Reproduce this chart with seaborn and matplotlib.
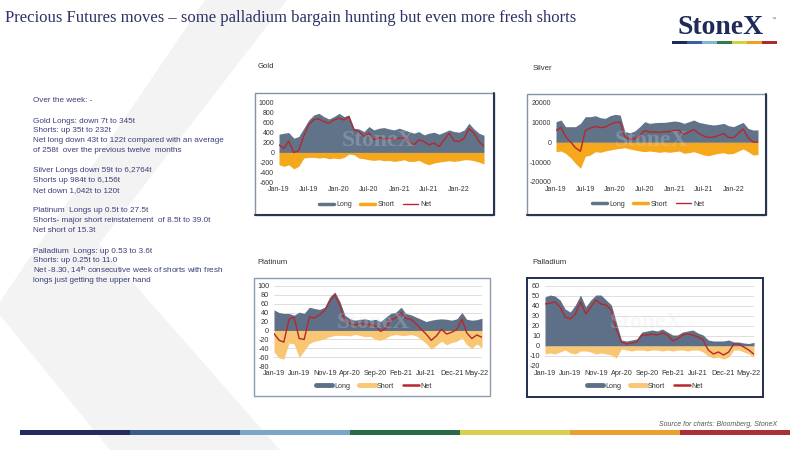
import matplotlib
matplotlib.use("Agg")
import matplotlib.pyplot as plt
import seaborn as sns
import pandas as pd
from matplotlib.lines import Line2D
from matplotlib.patches import Polygon, Rectangle

sns.set_theme(style="white")
plt.rcParams["font.family"] = ["Liberation Sans", "DejaVu Sans"]
plt.rcParams["axes.unicode_minus"] = False
plt.rcParams["mathtext.fontset"] = "custom"
plt.rcParams["mathtext.rm"] = "Liberation Sans"
plt.rcParams["mathtext.it"] = "Liberation Sans:italic"

# ---- data (monthly readings, Jan-19 .. Jun-22) ----
months = pd.date_range("2019-01-01", "2022-06-01", freq="MS")

gold_long = [367, 387, 400, 287, 320, 487, 653, 753, 787, 720, 673, 720,
             787, 720, 753, 487, 473, 420, 520, 453, 487, 500, 473, 453,
             487, 453, 420, 387, 420, 353, 387, 407, 367, 407, 453, 420,
             407, 453, 587, 473, 387, 345]
gold_short = [-247, -280, -247, -330, -280, -113, -100, -100, -113, -100, -127, -113,
              -127, -100, -33, -47, -113, -127, -147, -160, -147, -167, -160, -180,
              -167, -147, -180, -180, -160, -213, -247, -213, -193, -180, -167, -180,
              -167, -147, -147, -167, -193, -232]
gold_net = [153, 80, 230, 0, 40, 330, 560, 660, 673, 620, 587, 653,
            687, 653, 720, 453, 420, 320, 387, 253, 300, 273, 287, 253,
            287, 300, 220, 153, 253, 220, 153, 187, 120, 253, 387, 233,
            220, 287, 480, 387, 220, 122]

silver_long = [10420, 11260, 7900, 7900, 7900, 9580, 12940, 12940, 13450, 12440, 12100, 13450,
               14120, 13780, 5380, 4870, 5710, 7900, 10420, 9580, 9920, 10080, 10080, 10420,
               10760, 10420, 9580, 10420, 11260, 10080, 9580, 9080, 8740, 9080, 9580, 8400,
               7900, 9080, 10080, 7060, 6220, 6276]
silver_short = [-4700, -4370, -5550, -7730, -10590, -13100, -7000, -6390, -4700, -5040, -4370, -3870,
                -3360, -3030, -2690, -3360, -3870, -4370, -4700, -4370, -4700, -5040, -4700, -5040,
                -4700, -4370, -5550, -5210, -4700, -5550, -6390, -6720, -6050, -5550, -5210, -5880,
                -5550, -4370, -3360, -4700, -6390, -6156]
silver_net = [6000, 7500, 3000, 200, -2700, -4500, 6000, 7200, 8000, 7400, 7700, 9000,
              10000, 10200, 2700, 1500, 1800, 3500, 6000, 5200, 5200, 5000, 5400, 5400,
              6000, 6000, 4000, 5200, 6500, 4500, 3200, 2400, 2700, 3500, 4400, 2500,
              2300, 4700, 6700, 2400, 200, 120]

plat_long = [46, 40, 38, 38, 34, 41, 38, 52, 49, 47, 52, 75,
             86, 64, 34, 26, 23, 25, 26, 23, 25, 20, 30, 38,
             41, 52, 38, 35, 30, 25, 20, 23, 25, 26, 25, 23,
             26, 40, 25, 23, 24, 27.5]
plat_short = [-48, -61, -64, -28, -30, -60, -45, -29, -24, -22, -18, -14,
              -11, -11, -11, -12, -9, -11, -14, -13, -20, -22, -17, -11,
              -9, -11, -11, -9, -12, -20, -29, -42, -33, -24, -32, -27,
              -24, -16, -32, -40, -30, -39]
plat_net = [-7, -22, -26, 25, 30, -18, -20, 30, 28, 35, 45, 65,
            80, 55, 22, 15, 12, 16, 14, 13, 10, -2, 5, 24,
            28, 40, 27, 25, 15, 3, -8, -22, -12, 3, -8, -4,
            2, 25, -5, -18, -10, -15.3]

pall_long = [49, 51, 50, 46, 37, 34, 41, 51, 39, 46, 51, 51,
             46, 41, 24, 6, 5, 6, 7, 14, 15, 16, 15, 17,
             14, 11, 11, 14, 15, 16, 13, 11, 6, 5, 5, 5,
             6, 4, 4, 3, 2.5, 3.6]
pall_short = [-8, -7, -8, -6, -4, -7, -8, -5, -5, -6, -8, -7,
              -8, -9, -12, -3, -4, -5, -4, -4, -5, -4, -4, -5,
              -4, -5, -4, -4, -5, -4, -4, -6, -10, -12, -11, -13,
              -11, -4, -4, -6, -8, -11]
pall_net = [42, 43, 44, 39, 29, 27, 32, 44, 32, 39, 46, 42,
            41, 36, 17, 4, 2, 3, 4, 11, 11, 12, 11, 13,
            11, 5, 7, 11, 12, 11, 9, 6, -4, -8, -6, -9,
            -6, 2, 2, -1, -4, -8.3]

ticks_6m = ["Jan-19", "Jul-19", "Jan-20", "Jul-20", "Jan-21", "Jul-21", "Jan-22"]
ticks_5m = ["Jan-19", "Jun-19", "Nov-19", "Apr-20", "Sep-20", "Feb-21", "Jul-21", "Dec-21", "May-22"]
series_names = ["Long", "Short", "Net"]

notes = ["Over the week: -", "",
         "Gold Longs: down 7t to 345t",
         "Shorts: up 35t to 232t",
         "Net long down 43t to 122t compared with an average",
         "of 258t  over the previous twelve  months", "",
         "Silver Longs down 59t to 6,2764t",
         "Shorts up 984t to 6,156t",
         "Net down 1,042t to 120t", "",
         "Platinum  Longs up 0.5t to 27.5t",
         "Shorts- major short reinstatement  of 8.5t to 39.0t",
         "Net short of 15.3t", "",
         "Palladium  Longs: up 0.53 to 3.6t",
         "Shorts: up 0.25t to 11.0",
         "Net -8.30, 14$^{\\mathrm{th}}$ consecutive week of shorts with fresh",
         "longs just getting the upper hand"]

W, H = 800, 450
def fx(x):
    return x / W
def fy(y):
    return 1 - y / H

fig = plt.figure(figsize=(8, 4.5), dpi=100)
fig.patch.set_facecolor("white")

# background chevron
chev = [(205, 0), (287, 0), (99, 244), (280, 450), (110, 450), (-5, 309)]
fig.add_artist(Polygon([(fx(a), fy(b)) for a, b in chev], closed=True,
                       transform=fig.transFigure, fc="#f3f3f3", ec="none", zorder=0))

# title + logo
fig.text(fx(5), fy(18), "Precious Futures moves \u2013 some palladium bargain hunting but even more fresh shorts",
         family="Liberation Serif", fontsize=12, color="#2e3266", va="center", ha="left")
fig.text(fx(721), fy(28), "StoneX", family="Liberation Serif", fontsize=20, fontweight="bold",
         color="#1f2a5a", ha="center", va="center")
fig.text(fx(772), fy(19), "\u2122", fontsize=3, color="#1f2a5a", ha="left", va="center")
logo_cols = ["#1f2a5a", "#3c5fa0", "#86b4d8", "#2e7d4f", "#d8d040", "#f0a020", "#b22830"]
for i, c in enumerate(logo_cols):
    fig.add_artist(Rectangle((fx(672 + i * 15), fy(44)), 15 / W, 3 / H,
                             transform=fig.transFigure, fc=c, ec="none"))

# notes block
for i, line in enumerate(notes):
    if line:
        fig.text(fx(33), fy(101 + 10 * i), line, fontsize=5.9, color="#3b3f7a",
                 ha="left", va="center")

# footer
foot_cols = ["#222a5e", "#3a5a8a", "#7aa6c8", "#2a6b4a", "#d8cf50", "#e8a030", "#a8303a"]
seg = 770 / len(foot_cols)
for i, c in enumerate(foot_cols):
    fig.add_artist(Rectangle((fx(20 + i * seg), fy(435)), seg / W, 5 / H,
                             transform=fig.transFigure, fc=c, ec="none"))
fig.text(fx(777), fy(424), "Source for charts: Bloomberg, StoneX", fontsize=5, style="italic",
         color="#555555", ha="right", va="center")


def panel(title, title_xy, frame, plot_box, long_v, short_v, net_v, ylim, ystep,
          ticks, style, wm_xy, leg_xy):
    x0, y0, x1, y1 = frame
    fig.text(fx(title_xy[0]), fy(title_xy[1]), title, fontsize=5.6, color="#333333",
             ha="left", va="center")
    if style == "dark":
        fig.add_artist(Rectangle((fx(x0), fy(y1)), (x1 - x0) / W, (y1 - y0) / H,
                                 transform=fig.transFigure, fill=False, ec="#8593a8", lw=1))
        fig.add_artist(Line2D([fx(x0), fx(x1), fx(x1)], [fy(y1), fy(y1), fy(y0)],
                              transform=fig.transFigure, color="#2a3550", lw=1.5))
        c_long, c_short, grid = "#607389", "#f5a81c", False
        fs, lw_ls = 5, 2.5
    else:
        ec = "#8a9cb3" if style == "light" else "#1f2d4d"
        fig.add_artist(Rectangle((fx(x0), fy(y1)), (x1 - x0) / W, (y1 - y0) / H,
                                 transform=fig.transFigure, fill=False, ec=ec,
                                 lw=1 if style == "light" else 1.4))
        c_long, c_short, grid = "#5e7087", "#f9c673", True
        fs, lw_ls = 5.2, 3.5

    px0, py0, px1, py1 = plot_box
    ax = fig.add_axes([fx(px0), fy(py1), (px1 - px0) / W, (py1 - py0) / H])
    ax.set_facecolor("none")
    ax.fill_between(months, 0, long_v, color=c_long, lw=0, zorder=2)
    ax.fill_between(months, short_v, 0, color=c_short, lw=0, zorder=2)
    sns.lineplot(x=months, y=net_v, ax=ax, color="#b5282e", lw=1.0, zorder=5)
    ax.set_xlim(months[0], months[-1])
    ax.set_ylim(*ylim)
    yt = list(range(ylim[0], ylim[1] + 1, ystep))
    ax.set_yticks(yt)
    tick_dates = pd.to_datetime(ticks, format="%b-%y")
    ax.set_xticks(tick_dates)
    ax.set_xticklabels(ticks)
    ax.tick_params(axis="both", length=0, labelsize=fs, colors="#333333")
    ax.tick_params(axis="y", pad=3.5)
    ax.tick_params(axis="x", pad=2.8)
    for s in ax.spines.values():
        s.set_visible(False)
    if grid:
        ax.grid(axis="y", color="#d9d9d9", lw=0.6, zorder=0)
        ax.set_axisbelow(True)
    else:
        ax.grid(False)
    ax.set_xlabel("")
    ax.set_ylabel("")
    fig.text(fx(wm_xy[0]), fy(wm_xy[1]), "StoneX", family="Liberation Serif", fontsize=17,
             fontweight="bold", color="#dfe3ea", alpha=0.25, ha="center", va="center", zorder=4)
    handles = [Line2D([0], [0], color=c_long, lw=lw_ls),
               Line2D([0], [0], color=c_short, lw=lw_ls),
               Line2D([0], [0], color="#b5282e", lw=1 if style == "dark" else 1.8)]
    ax.legend(handles, series_names, loc="center", bbox_to_anchor=(fx(leg_xy[0]), fy(leg_xy[1])),
              bbox_transform=fig.transFigure, ncol=3, frameon=False, fontsize=fs,
              handlelength=2.2, handletextpad=0.3, columnspacing=1.2, labelcolor="#333333")
    return ax


panel("Gold", (258, 67), (255, 93, 494, 215), (279, 102.7, 484, 182.3),
      gold_long, gold_short, gold_net, (-600, 1000), 200, ticks_6m, "dark",
      (378, 141), (375, 204.6))
panel("Silver", (533, 68), (527, 94, 766, 215), (556, 102.7, 758, 182),
      silver_long, silver_short, silver_net, (-20000, 20000), 10000, ticks_6m, "dark",
      (651, 140), (648, 204))
panel("Platinum", (257, 262), (254, 278, 490, 396), (274, 285.7, 482, 366.3),
      plat_long, plat_short, plat_net, (-80, 100), 20, ticks_5m, "light",
      (373, 322), (374, 386))
panel("Palladium", (532, 262), (527, 278, 763, 397), (545, 286, 754, 366),
      pall_long, pall_short, pall_net, (-20, 60), 10, ticks_5m, "navy",
      (646, 323), (645, 386))

fig.savefig("out.png", dpi=100)
